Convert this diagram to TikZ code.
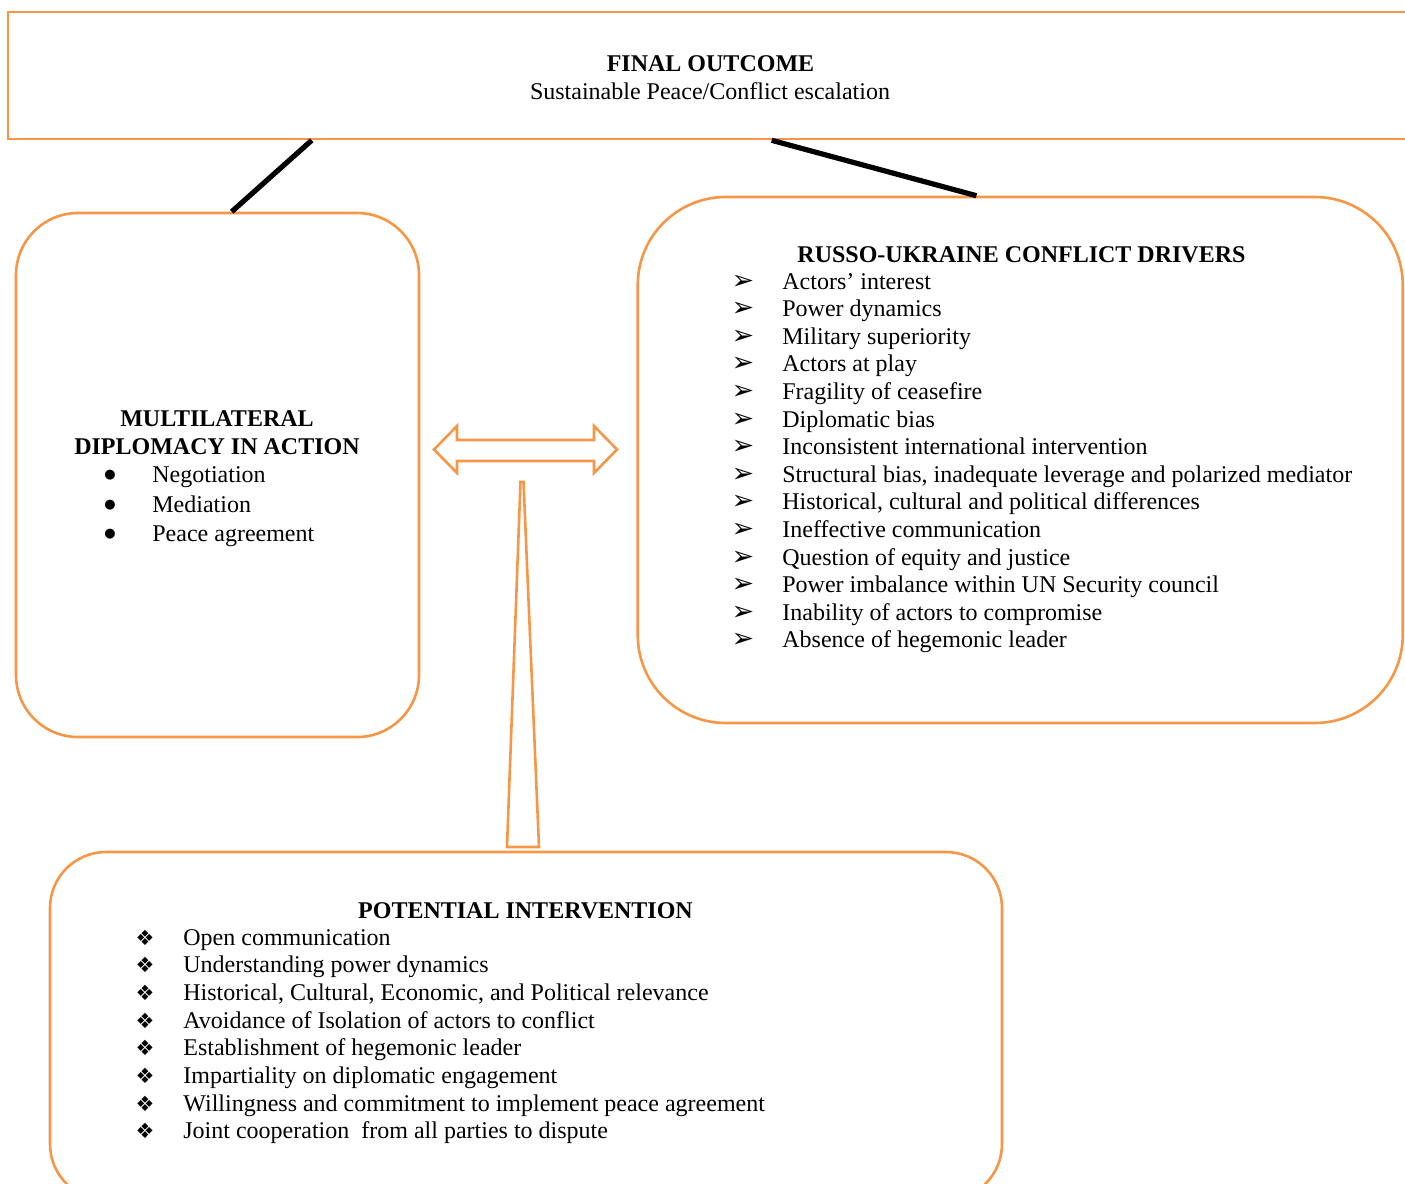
\documentclass[tikz,border=0pt]{standalone}
\usepackage{fontspec}
\setmainfont{Liberation Serif}
\newfontfamily\dingfont{DejaVu Sans}
\definecolor{boxorange}{HTML}{F79646}

\newcommand{\driver}[3]{%
 \node[entry] ({#1}) at (782,#2) {#3};%
 \node[arrowbullet] ({#1b}) at (743,#2) {➢};%
}
\newcommand{\remedy}[3]{%
 \node[entry] ({#1}) at (183,#2) {#3};%
 \node[diamondbullet] ({#1b}) at (145,#2) {❖};%
}
\newcommand{\tool}[3]{%
 \node[entry] ({#1}) at (152,#2) {#3};%
 \node[dotbullet] ({#1b}) at (110,#2) {●};%
}

\begin{document}
\begin{tikzpicture}[x=0.5pt,y=-0.5pt,
  every node/.style={font=\fontsize{12}{13.8}\selectfont, inner sep=0pt},
  frame/.style={draw=boxorange, line width=1.3pt},
  entry/.style={anchor=base west},
  head/.style={anchor=base, font=\fontsize{12}{13.8}\selectfont\bfseries},
  arrowbullet/.style={anchor=base, font=\dingfont\fontsize{13.5}{13.5}\selectfont},
  diamondbullet/.style={anchor=base, font=\dingfont\fontsize{10.5}{10.5}\selectfont},
  dotbullet/.style={anchor=base, font=\dingfont\fontsize{6.5}{6.5}\selectfont, yshift=1.6pt},
  link/.style={black, line width=2.6pt}]
   \useasboundingbox (0,0) rectangle (1405,1184);
   \clip (0,0) rectangle (1405,1184);
   % boxes
   \node[frame, minimum width=711pt, minimum height=63.5pt] (final) at (719,75.5) {};
   \node[frame, rounded corners=31pt, minimum width=201.5pt, minimum height=262pt] (multi) at (217.5,475) {};
   \node[frame, rounded corners=44pt, minimum width=382.5pt, minimum height=263pt] (drivers) at (1020.25,460) {};
   \node[frame, rounded corners=28pt, minimum width=476pt, minimum height=174pt] (potential) at (526,1026) {};
   \draw[link] ([xshift=152.5pt]final.south west) -- ([xshift=108.5pt]multi.north west);
   \draw[link] ([xshift=382.5pt]final.south west) -- ([xshift=170pt]drivers.north west);
   \draw[frame] (434,449.5) -- (457,426) -- (457,440) -- (594,440) -- (594,426) -- (617,449.5)
      -- (594,473) -- (594,461) -- (457,461) -- (457,473) -- cycle;
   \draw[frame] (520.5,482) -- (523.5,482) -- (539,847) -- (507,847) -- cycle;
   % final outcome
   \node[head] (finalhead) at (710.5,71) {FINAL OUTCOME};
   \node[anchor=base] (finalsub) at (710,99) {Sustainable Peace/Conflict escalation};
   % multilateral diplomacy
   \node[head] (multihead) at (217,426) {MULTILATERAL};
   \node[head] (multihead2) at (217,454) {DIPLOMACY IN ACTION};
   \tool{m1}{482}{Negotiation};
   \tool{m2}{512}{Mediation};
   \tool{m3}{541}{Peace agreement};
   % drivers
   \node[head] (drivershead) at (1021.5,262) {RUSSO-UKRAINE CONFLICT DRIVERS};
   \driver{d1}{289}{Actors’ interest};
   \driver{d2}{316.6}{Power dynamics};
   \driver{d3}{344.2}{Military superiority};
   \driver{d4}{371.8}{Actors at play};
   \driver{d5}{399.4}{Fragility of ceasefire};
   \driver{d6}{427}{Diplomatic bias};
   \driver{d7}{454.6}{Inconsistent international intervention};
   \driver{d8}{482.2}{Structural bias, inadequate leverage and polarized mediator};
   \driver{d9}{509.8}{Historical, cultural and political differences};
   \driver{d10}{537.4}{Ineffective communication};
   \driver{d11}{565}{Question of equity and justice};
   \driver{d12}{592.6}{Power imbalance within UN Security council};
   \driver{d13}{620.2}{Inability of actors to compromise};
   \driver{d14}{647.8}{Absence of hegemonic leader};
   % potential intervention
   \node[head] (potentialhead) at (525.5,918) {POTENTIAL INTERVENTION};
   \remedy{p1}{945}{Open communication};
   \remedy{p2}{972.7}{Understanding power dynamics};
   \remedy{p3}{1000.4}{Historical, Cultural, Economic, and Political relevance};
   \remedy{p4}{1028.1}{Avoidance of Isolation of actors to conflict};
   \remedy{p5}{1055.8}{Establishment of hegemonic leader};
   \remedy{p6}{1083.5}{Impartiality on diplomatic engagement};
   \remedy{p7}{1111.2}{Willingness and commitment to implement peace agreement};
   \remedy{p8}{1138.9}{Joint cooperation~ from all parties to dispute};
  \end{tikzpicture}
\end{document}
